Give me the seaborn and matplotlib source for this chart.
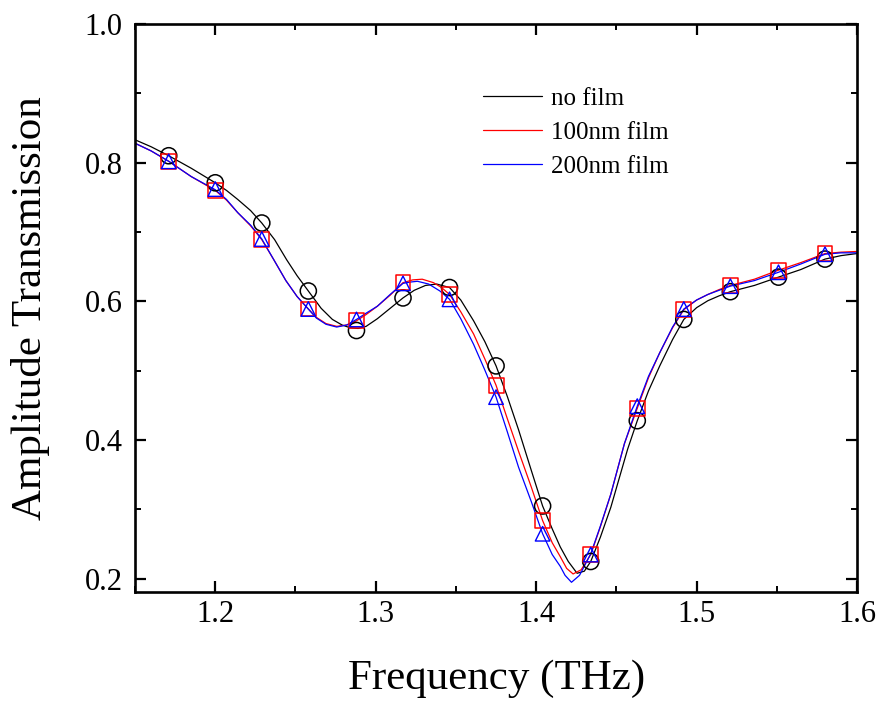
import matplotlib
matplotlib.use("Agg")
import matplotlib.pyplot as plt
from matplotlib.ticker import MultipleLocator, FormatStrFormatter
import seaborn as sns

# Measured samples (markers) for the three transmission spectra
freq_pts = [1.171, 1.200, 1.229, 1.258, 1.288, 1.317, 1.346, 1.375,
            1.404, 1.434, 1.463, 1.492, 1.521, 1.551, 1.580]
nofilm_pts = [0.810, 0.771, 0.713, 0.615, 0.558, 0.605, 0.620, 0.507,
              0.305, 0.225, 0.428, 0.574, 0.614, 0.635, 0.661]
film100_pts = [0.802, 0.760, 0.689, 0.589, 0.572, 0.627, 0.610, 0.479,
               0.284, 0.235, 0.446, 0.588, 0.623, 0.645, 0.669]
film200_pts = [0.802, 0.762, 0.690, 0.589, 0.574, 0.626, 0.603, 0.462,
               0.265, 0.235, 0.449, 0.589, 0.622, 0.642, 0.668]

# Fitted curves
nofilm_f = [1.150, 1.160, 1.171, 1.185, 1.200, 1.207, 1.214, 1.222, 1.229,
            1.237, 1.2445, 1.251, 1.258, 1.266, 1.273, 1.279, 1.284, 1.289,
            1.294, 1.301, 1.309, 1.317, 1.324, 1.331, 1.338, 1.346, 1.353,
            1.361, 1.368, 1.375, 1.382, 1.389, 1.397, 1.404, 1.410, 1.415,
            1.420, 1.4255, 1.430, 1.434, 1.440, 1.4465, 1.452, 1.457, 1.463,
            1.470, 1.477, 1.485, 1.492, 1.500, 1.507, 1.514, 1.521, 1.536,
            1.551, 1.565, 1.580, 1.590, 1.600]
nofilm_t = [0.833, 0.823, 0.810, 0.792, 0.771, 0.760, 0.747, 0.731, 0.713,
            0.689, 0.660, 0.637, 0.615, 0.590, 0.574, 0.566, 0.562, 0.561,
            0.564, 0.575, 0.590, 0.605, 0.616, 0.623, 0.625, 0.620, 0.602,
            0.572, 0.542, 0.507, 0.463, 0.415, 0.356, 0.305, 0.272, 0.246,
            0.225, 0.208, 0.211, 0.225, 0.260, 0.303, 0.347, 0.387, 0.428,
            0.471, 0.507, 0.545, 0.574, 0.591, 0.601, 0.608, 0.614, 0.623,
            0.635, 0.646, 0.661, 0.666, 0.669]

film100_f = [1.150, 1.160, 1.171, 1.185, 1.200, 1.207, 1.214, 1.222, 1.229,
             1.2365, 1.244, 1.251, 1.258, 1.263, 1.269, 1.2757, 1.282, 1.288,
             1.294, 1.301, 1.309, 1.317, 1.323, 1.329, 1.336, 1.341, 1.346,
             1.353, 1.361, 1.368, 1.375, 1.382, 1.389, 1.397, 1.404, 1.410,
             1.415, 1.419, 1.423, 1.428, 1.434, 1.440, 1.4465, 1.455, 1.463,
             1.470, 1.477, 1.485, 1.492, 1.500, 1.507, 1.514, 1.521, 1.536,
             1.551, 1.565, 1.580, 1.590, 1.600]
film100_t = [0.828, 0.817, 0.802, 0.780, 0.760, 0.746, 0.728, 0.709, 0.689,
             0.660, 0.630, 0.607, 0.589, 0.577, 0.568, 0.564, 0.566, 0.572,
             0.581, 0.593, 0.609, 0.627, 0.631, 0.632, 0.627, 0.620, 0.610,
             0.585, 0.553, 0.517, 0.479, 0.431, 0.384, 0.332, 0.284, 0.252,
             0.232, 0.215, 0.207, 0.213, 0.235, 0.275, 0.322, 0.395, 0.446,
             0.490, 0.526, 0.562, 0.588, 0.602, 0.610, 0.617, 0.623, 0.632,
             0.645, 0.656, 0.669, 0.671, 0.672]

film200_f = [1.150, 1.160, 1.171, 1.185, 1.200, 1.207, 1.214, 1.222, 1.229,
             1.2365, 1.244, 1.251, 1.258, 1.263, 1.269, 1.2757, 1.282, 1.288,
             1.294, 1.301, 1.309, 1.317, 1.322, 1.326, 1.333, 1.340, 1.346,
             1.353, 1.361, 1.368, 1.375, 1.382, 1.389, 1.397, 1.404, 1.410,
             1.415, 1.418, 1.422, 1.427, 1.434, 1.440, 1.4465, 1.455, 1.463,
             1.470, 1.477, 1.485, 1.492, 1.500, 1.507, 1.514, 1.521, 1.536,
             1.551, 1.565, 1.580, 1.590, 1.600]
film200_t = [0.828, 0.817, 0.802, 0.780, 0.761, 0.747, 0.728, 0.710, 0.690,
             0.660, 0.630, 0.607, 0.589, 0.576, 0.567, 0.563, 0.566, 0.574,
             0.583, 0.593, 0.610, 0.626, 0.628, 0.629, 0.625, 0.615, 0.603,
             0.575, 0.538, 0.501, 0.462, 0.412, 0.361, 0.311, 0.265, 0.235,
             0.218, 0.205, 0.195, 0.205, 0.236, 0.276, 0.322, 0.395, 0.449,
             0.492, 0.526, 0.563, 0.589, 0.602, 0.610, 0.616, 0.622, 0.630,
             0.642, 0.654, 0.668, 0.670, 0.670]

labels = ["no film", "100nm film", "200nm film"]
colors = ["black", "#ff0000", "#0000ff"]

sns.set_theme(style="ticks")
plt.rcParams["font.family"] = ["Liberation Serif", "DejaVu Serif"]
plt.rcParams.update({
    "text.color": "black",
    "axes.labelcolor": "black",
    "xtick.color": "black",
    "ytick.color": "black",
    "axes.edgecolor": "black",
})

fig = plt.figure(figsize=(8.78, 7.01), dpi=100)
ax = fig.add_axes([0.1538, 0.1555, 0.8224, 0.8103])

curves = [(nofilm_f, nofilm_t), (film100_f, film100_t), (film200_f, film200_t)]
for (f, t), lab, col in zip(curves, labels, colors):
    sns.lineplot(x=f, y=t, ax=ax, color=col, linewidth=0.9, label=lab,
                 sort=False, estimator=None)

sns.scatterplot(x=freq_pts, y=nofilm_pts, ax=ax, marker="o", s=135,
                facecolors="none", edgecolor="black", linewidth=1.1,
                legend=False, zorder=3)
sns.scatterplot(x=freq_pts, y=film100_pts, ax=ax, marker="s", s=115,
                facecolors="none", edgecolor="#ff0000", linewidth=1.1,
                legend=False, zorder=4)
sns.scatterplot(x=freq_pts, y=film200_pts, ax=ax, marker="^", s=110,
                facecolors="none", edgecolor="#0000ff", linewidth=1.0,
                legend=False, zorder=5)

ax.set_xlim(1.15, 1.6)
ax.set_ylim(0.181, 1.0)
ax.xaxis.set_major_locator(MultipleLocator(0.1))
ax.xaxis.set_minor_locator(MultipleLocator(0.05))
ax.yaxis.set_major_locator(MultipleLocator(0.2))
ax.yaxis.set_minor_locator(MultipleLocator(0.1))
ax.xaxis.set_major_formatter(FormatStrFormatter("%.1f"))
ax.yaxis.set_major_formatter(FormatStrFormatter("%.1f"))

ax.tick_params(which="both", direction="in", top=True, right=True,
               colors="black")
ax.tick_params(which="major", length=8, width=1.6, labelsize=22)
ax.tick_params(which="minor", length=4.5, width=1.4)
ax.tick_params(axis="x", which="major", pad=6)
ax.tick_params(axis="y", which="major", pad=9)
for sp in ax.spines.values():
    sp.set_linewidth(1.9)
    sp.set_color("black")

ax.set_xlabel("Frequency (THz)", fontsize=31)
ax.set_ylabel("Amplitude Transmission", fontsize=31)
ax.xaxis.set_label_coords(0.5, -0.118)
ax.yaxis.set_label_coords(-0.118, 0.5)

leg = ax.legend(loc="upper left", bbox_to_anchor=(0.482, 0.888),
                frameon=False, fontsize=18, handlelength=2.35,
                handletextpad=0.35, labelspacing=0.45, borderpad=0,
                borderaxespad=0)
for h in leg.get_lines():
    h.set_linewidth(0.9)
for txt in leg.get_texts():
    txt.set_color("black")

fig.savefig("out.png", dpi=100)
